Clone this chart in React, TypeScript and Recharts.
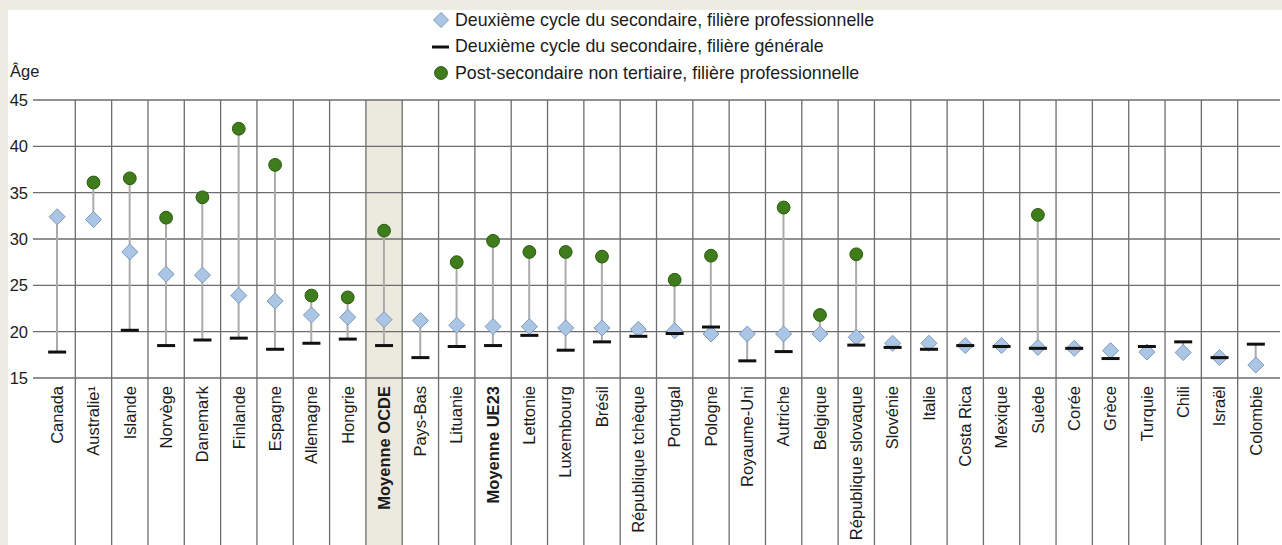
import {
  ComposedChart,
  Bar,
  Scatter,
  XAxis,
  YAxis,
  CartesianGrid,
  ReferenceArea,
  Legend,
} from 'recharts'

// categories, left to right
const categories = [
  'Canada', 'Australie¹', 'Islande', 'Norvège', 'Danemark', 'Finlande', 'Espagne',
  'Allemagne', 'Hongrie', 'Moyenne OCDE', 'Pays-Bas', 'Lituanie', 'Moyenne UE23',
  'Lettonie', 'Luxembourg', 'Brésil', 'République tchèque', 'Portugal', 'Pologne',
  'Royaume-Uni', 'Autriche', 'Belgique', 'République slovaque', 'Slovénie', 'Italie',
  'Costa Rica', 'Mexique', 'Suède', 'Corée', 'Grèce', 'Turquie', 'Chili', 'Israël',
  'Colombie',
]

// Deuxième cycle du secondaire, filière professionnelle
const profAge = [
  32.4, 32.1, 28.6, 26.2, 26.1, 23.9, 23.3, 21.8, 21.55, 21.3, 21.2, 20.7, 20.55,
  20.55, 20.4, 20.4, 20.25, 20.1, 19.75, 19.75, 19.75, 19.75, 19.4, 18.75, 18.75,
  18.5, 18.5, 18.3, 18.2, 17.95, 17.8, 17.75, 17.2, 16.4,
]

// Deuxième cycle du secondaire, filière générale
const generalAge = [
  17.8, null, 20.15, 18.5, 19.1, 19.3, 18.1, 18.75, 19.2, 18.5, 17.2, 18.4, 18.5,
  19.6, 18.0, 18.9, 19.5, 19.8, 20.5, 16.85, 17.85, null, 18.55, 18.3, 18.1,
  18.5, 18.4, 18.2, 18.2, 17.1, 18.4, 18.9, 17.2, 18.65,
]

// Post-secondaire non tertiaire, filière professionnelle
const postSecAge = [
  null, 36.1, 36.55, 32.3, 34.5, 41.9, 38.0, 23.9, 23.7, 30.9, null, 27.5, 29.8,
  28.6, 28.6, 28.1, null, 25.6, 28.2, null, 33.4, 21.8, 28.35, null, null,
  null, null, 32.6, null, null, null, null, null, null,
]

const yTicks = [15, 20, 25, 30, 35, 40, 45]
const boldCategories = ['Moyenne OCDE', 'Moyenne UE23']
const highlighted = 'Moyenne OCDE'

const legendItems = [
  { key: 'prof', label: 'Deuxième cycle du secondaire, filière professionnelle' },
  { key: 'gen', label: 'Deuxième cycle du secondaire, filière générale' },
  { key: 'post', label: 'Post-secondaire non tertiaire, filière professionnelle' },
]

const data = categories.map((name, i) => {
  const vals = [profAge[i], generalAge[i], postSecAge[i]].filter((v) => v != null) as number[]
  return {
    name,
    prof: profAge[i],
    gen: generalAge[i],
    post: postSecAge[i],
    span: [Math.min(...vals), Math.max(...vals)],
  }
})

const FONT = "'Liberation Sans', Arial, sans-serif"
const TEXT = '#1c1c1c'
const GRID = '#6d6d6d'
const BLUE = '#abc5e4'
const BLUE_EDGE = '#7f99ba'
const GREEN = '#3f7c1b'
const GREEN_EDGE = '#2b5b0e'

const diamond = (cx: number, cy: number, r = 8) => (
  <polygon
    points={`${cx},${cy - r} ${cx + r},${cy} ${cx},${cy + r} ${cx - r},${cy}`}
    fill={BLUE}
    stroke={BLUE_EDGE}
    strokeWidth={1}
  />
)
const dash = (cx: number, cy: number) => (
  <rect x={cx - 9} y={cy - 1.5} width={18} height={3} fill='#111' />
)
const dot = (cx: number, cy: number) => (
  <circle cx={cx} cy={cy} r={6.4} fill={GREEN} stroke={GREEN_EDGE} strokeWidth={1} />
)

const shapeFor = (key: string, draw: (cx: number, cy: number) => any) => (p: any) => {
  if (p.payload == null || p.payload[key] == null) return <g />
  return draw(p.cx, p.cy)
}

const CategoryTick = ({ x, y, payload }: any) => {
  const bold = boldCategories.includes(payload.value)
  return (
    <text
      x={x}
      y={y}
      transform={`rotate(-90, ${x}, ${y})`}
      textAnchor='end'
      dy='0.35em'
      fontSize={16.5}
      fontFamily={FONT}
      fontWeight={bold ? 700 : 400}
      fill={TEXT}
    >
      {payload.value}
    </text>
  )
}

const LegendBox = () => (
  <div style={{ fontFamily: FONT, fontSize: 17.8, color: TEXT }}>
    {legendItems.map((item) => (
      <div key={item.key} style={{ display: 'flex', alignItems: 'center', height: 26.5 }}>
        <svg width={20} height={20} style={{ marginRight: 4 }}>
          {item.key === 'prof' && diamond(10, 10, 7.5)}
          {item.key === 'gen' && <rect x={1} y={8.5} width={17} height={3} fill='#111' />}
          {item.key === 'post' && dot(10, 10)}
        </svg>
        <span style={{ whiteSpace: 'nowrap' }}>{item.label}</span>
      </div>
    ))}
  </div>
)

export default function App() {
  return (
    <div style={{ position: 'fixed', left: 0, top: 0, width: 1282, height: 545, background: '#eeebe3' }}>
      <div style={{ position: 'absolute', left: 8, top: 10, width: 1274, height: 535, background: '#fff' }}>
        <ComposedChart
          width={1274}
          height={535}
          data={data}
          margin={{ top: 90, right: 8, bottom: 0, left: 0 }}
        >
          {/* shaded OECD column, kept under the grid lines */}
          <ReferenceArea
            x1={highlighted}
            x2={highlighted}
            ifOverflow='visible'
            zIndex={-200}
            shape={(p: any) => (
              <rect x={p.x} y={p.y} width={p.width} height={p.height + 167} fill='#ece9df' />
            )}
          />
          <CartesianGrid
            horizontal={false}
            y={90}
            height={445}
            stroke={GRID}
            strokeWidth={1.3}
            verticalCoordinatesGenerator={({ offset }: any) =>
              categories.slice(1).map((_, i) => offset.left + ((i + 1) * offset.width) / categories.length)
            }
          />
          <CartesianGrid vertical={false} x={25} width={1247} stroke={GRID} strokeWidth={1.4} />
          <XAxis
            dataKey='name'
            interval={0}
            height={167}
            axisLine={false}
            tickLine={false}
            tick={<CategoryTick />}
          />
          <YAxis
            domain={[15, 45]}
            ticks={yTicks}
            width={31}
            axisLine={false}
            tickLine={false}
            tickMargin={5}
            tick={{ fontSize: 16.5, fontFamily: FONT, fill: TEXT }}
            label={{
              content: ({ viewBox }: any) => (
                <text x={viewBox.x + 2} y={viewBox.y - 23} fontSize={16.5} fontFamily={FONT} fill={TEXT}>
                  Âge
                </text>
              ),
            }}
          />
          <Legend
            verticalAlign='middle'
            align='center'
            layout='horizontal'
            wrapperStyle={{ top: -3, left: 423, width: 500, height: 80 }}
            content={<LegendBox />}
          />
          <Bar dataKey='span' barSize={2} fill='#ababab' isAnimationActive={false} />
          <Scatter dataKey='prof' shape={shapeFor('prof', (cx, cy) => diamond(cx, cy))} isAnimationActive={false} />
          <Scatter dataKey='gen' shape={shapeFor('gen', dash)} isAnimationActive={false} />
          <Scatter dataKey='post' shape={shapeFor('post', dot)} isAnimationActive={false} />
        </ComposedChart>
      </div>
    </div>
  )
}
